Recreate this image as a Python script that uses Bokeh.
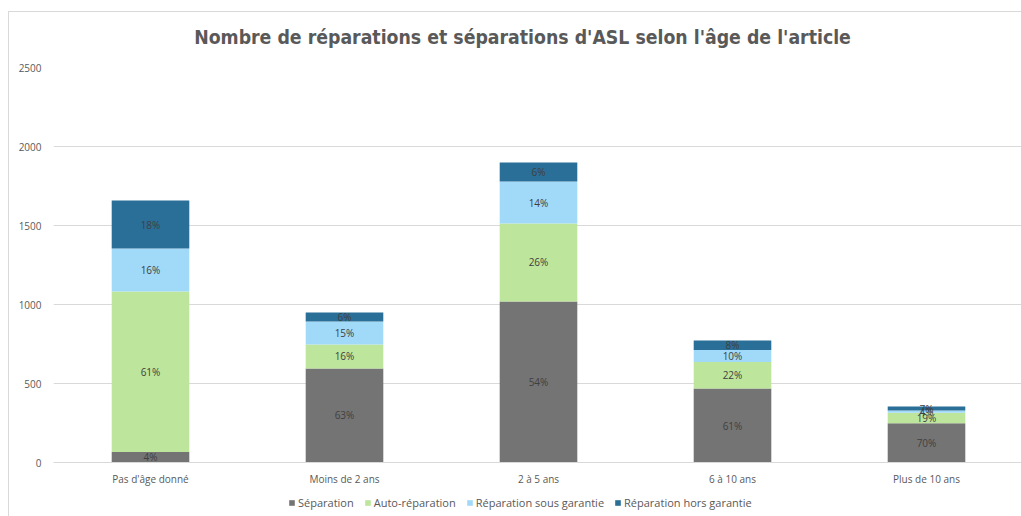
from bokeh.plotting import figure
from bokeh.models import ColumnDataSource, Range1d, FixedTicker, Legend, LegendItem, LabelSet, Label
from bokeh.core.properties import value
from bokeh.layouts import column
from bokeh.embed import file_html
from bokeh.resources import INLINE

categories = ["Pas d'âge donné", "Moins de 2 ans", "2 à 5 ans", "6 à 10 ans", "Plus de 10 ans"]
separation = [66, 595, 1019, 468, 248]
auto_reparation = [1016, 152, 494, 168, 67]
rep_sous_garantie = [272, 145, 265, 76, 14]
rep_hors_garantie = [304, 57, 121, 60, 25]
series_names = ["Séparation", "Auto-réparation", "Réparation sous garantie", "Réparation hors garantie"]
colors = ["#747474", "#BDE59B", "#A1DAF8", "#2A6F97"]
y_ticks = [0, 500, 1000, 1500, 2000, 2500]
title_text = "Nombre de réparations et séparations d'ASL selon l'âge de l'article"

FONT = "'Open Sans', 'Liberation Sans', sans-serif"
TITLE_FONT = "'Liberation Sans Narrow', 'DejaVu Sans Condensed', 'Roboto', sans-serif"

series = [separation, auto_reparation, rep_sous_garantie, rep_hors_garantie]
keys = ["s0", "s1", "s2", "s3"]
xs = list(range(len(categories)))
totals = [sum(v) for v in zip(*series)]

data = {"x": xs}
for k, s in zip(keys, series):
    data[k] = s
src = ColumnDataSource(data)

W, H0, H1, H2 = 1012, 47, 433, 24

# title strip
p0 = figure(width=W, height=H0, output_backend="svg", toolbar_location=None,
            x_range=Range1d(0, 1), y_range=Range1d(0, 1),
            x_axis_location=None, y_axis_location=None,
            min_border_left=0, min_border_right=0, min_border_top=0, min_border_bottom=0)
p0.grid.visible = False
p0.outline_line_color = None
p0.add_layout(Label(x=469, y=H0 - 25, x_units="screen", y_units="screen", text=title_text,
                    text_align="center", text_baseline="middle", text_font=TITLE_FONT,
                    text_font_size="19.3px", text_font_style="bold", text_color="#595959"))

# main chart
p = figure(width=W, height=H1, output_backend="svg", toolbar_location=None,
           x_range=Range1d(-0.5, -0.5 + (W - 44) / 194), y_range=Range1d(0, 2500),
           min_border_left=44, min_border_right=0, min_border_top=8, min_border_bottom=30)

rs = p.vbar_stack(keys, x="x", width=0.40, source=src, color=colors, line_color=None)

# percentage labels
lx, ly, lt = [], [], []
for i in xs:
    cum = 0
    for s in series:
        v = s[i]
        lx.append(i)
        ly.append(cum + v / 2)
        lt.append(f"{round(100 * v / totals[i])}%")
        cum += v
lsrc = ColumnDataSource(dict(x=lx, y=ly, t=lt))
p.add_layout(LabelSet(x="x", y="y", text="t", source=lsrc, text_align="center",
                      text_baseline="middle", text_font_size=value("10px"), text_color="#404040",
                      text_font=value(FONT)))

p.outline_line_color = None
p.xgrid.grid_line_color = None
p.ygrid.grid_line_color = "#d9d9d9"
p.ygrid.ticker = FixedTicker(ticks=y_ticks)

p.yaxis.ticker = FixedTicker(ticks=y_ticks)
p.yaxis.axis_line_color = None
p.yaxis.major_tick_line_color = None
p.yaxis.minor_tick_line_color = None
p.yaxis.major_tick_out = 0
p.yaxis.major_tick_in = 0
p.yaxis.major_label_text_font_size = "10px"
p.yaxis.major_label_text_color = "#595959"
p.yaxis.major_label_text_font = FONT
p.yaxis.major_label_standoff = 12

p.xaxis.ticker = FixedTicker(ticks=xs)
p.xaxis.major_label_overrides = {i: c for i, c in enumerate(categories)}
p.xaxis.axis_line_color = "#d9d9d9"
p.xaxis.major_tick_line_color = None
p.xaxis.minor_tick_line_color = None
p.xaxis.major_tick_out = 0
p.xaxis.major_tick_in = 0
p.xaxis.major_label_text_font_size = "10px"
p.xaxis.major_label_text_color = "#595959"
p.xaxis.major_label_text_font = FONT
p.xaxis.major_label_standoff = 9

# legend strip
p2 = figure(width=W, height=H2, output_backend="svg", toolbar_location=None,
            x_range=Range1d(0, 1), y_range=Range1d(0, 1),
            x_axis_location=None, y_axis_location=None,
            min_border_left=0, min_border_right=0, min_border_top=0, min_border_bottom=0)
p2.grid.visible = False
p2.outline_line_color = None
dummies = [p2.vbar(x=[5], top=[5], width=0.1, color=c, line_color=None) for c in colors]
legend = Legend(items=[LegendItem(label=n, renderers=[r]) for n, r in zip(series_names, dummies)],
                orientation="horizontal", location=(235, 6),
                label_text_font_size="11px", label_text_color="#595959", label_text_font=FONT,
                glyph_width=7, glyph_height=7, label_standoff=3, spacing=10,
                label_height=12,
                background_fill_alpha=0, border_line_color=None, padding=0, margin=0)
p2.add_layout(legend)

layout = column(p0, p, p2, spacing=0)
layout.styles = {"margin-left": "8px", "margin-top": "11px",
                 "border-left": "1px solid #d9d9d9", "border-top": "1px solid #d9d9d9"}

open("out.html", "w").write(file_html(layout, INLINE))
